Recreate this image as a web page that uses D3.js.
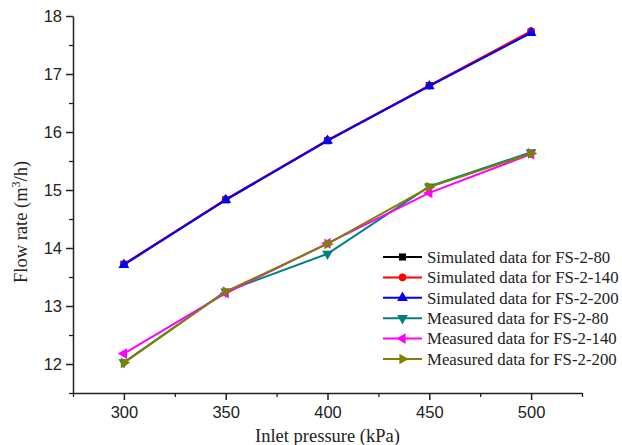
<!DOCTYPE html>
<html>
<head>
<meta charset="utf-8">
<title>Flow rate vs inlet pressure</title>
<script src="https://d3js.org/d3.v7.min.js"></script>
<style>
    body { margin: 0; background: #fff; }
    .tick text { font-family: Arial, "Liberation Sans", sans-serif; font-size: 16.5px; fill: #222; }
    .axis-title { font-family: "Times New Roman", "Liberation Serif", serif; font-size: 18.5px; fill: #222; }
    .legend text { font-family: "Times New Roman", "Liberation Serif", serif; font-size: 16.8px; fill: #222; }
</style>
</head>
<body>
<div id="chart"></div>
<script>
    // data
    const pressures = [300, 350, 400, 450, 500];
    const simFS80 = [13.72, 14.83, 15.85, 16.80, 17.72];
    const simFS140 = [13.72, 14.84, 15.86, 16.80, 17.74];
    const simFS200 = [13.71, 14.83, 15.85, 16.79, 17.71];
    const measFS80 = [12.03, 13.25, 13.90, 15.06, 15.65];
    const measFS140 = [12.18, 13.22, 14.08, 14.95, 15.62];
    const measFS200 = [12.02, 13.25, 14.07, 15.05, 15.63];
    const xTicks = [300, 350, 400, 450, 500];
    const yTicks = [12, 13, 14, 15, 16, 17, 18];

    const series = [
        { name: "Simulated data for FS-2-80", values: simFS80, color: "#000000", symbol: d3.symbolSquare, rot: 0 },
        { name: "Simulated data for FS-2-140", values: simFS140, color: "#ff0000", symbol: d3.symbolCircle, rot: 0 },
        { name: "Simulated data for FS-2-200", values: simFS200, color: "#0000ff", symbol: d3.symbolTriangle, rot: 0 },
        { name: "Measured data for FS-2-80", values: measFS80, color: "#008080", symbol: d3.symbolTriangle, rot: 180 },
        { name: "Measured data for FS-2-140", values: measFS140, color: "#ff00ff", symbol: d3.symbolTriangle, rot: -90 },
        { name: "Measured data for FS-2-200", values: measFS200, color: "#808000", symbol: d3.symbolTriangle, rot: 90 }
    ];

    const W = 622, H = 445;
    const margin = { top: 16, right: 40, bottom: 52, left: 73 };
    const width = W - margin.left - margin.right;
    const height = H - margin.top - margin.bottom;

    const svg = d3.select("#chart").append("svg")
        .attr("width", W)
        .attr("height", H);

    const g = svg.append("g")
        .attr("transform", `translate(${margin.left},${margin.top})`);

    const x = d3.scaleLinear().domain([275, 525]).range([0, width]);
    const y = d3.scaleLinear().domain([11.5, 18]).range([height, 0]);

    // minor ticks
    const xMinor = d3.range(275, 526, 25).filter(v => !xTicks.includes(v));
    const yMinor = d3.range(11.5, 18.01, 0.5).filter(v => !yTicks.includes(v));

    g.append("g")
        .attr("transform", `translate(0,${height})`)
        .call(d3.axisBottom(x).tickValues(xMinor).tickSize(4).tickFormat(""))
        .call(a => a.select(".domain").remove())
        .selectAll("line").attr("stroke", "#222").attr("stroke-width", 1.3);

    g.append("g")
        .call(d3.axisLeft(y).tickValues(yMinor).tickSize(4).tickFormat(""))
        .call(a => a.select(".domain").remove())
        .selectAll("line").attr("stroke", "#222").attr("stroke-width", 1.3);

    const xAxis = g.append("g")
        .attr("transform", `translate(0,${height})`)
        .call(d3.axisBottom(x).tickValues(xTicks).tickFormat(d3.format("d"))
            .tickSize(7).tickSizeOuter(0).tickPadding(6));
    xAxis.select(".domain").attr("stroke", "#222").attr("stroke-width", 1.5);
    xAxis.selectAll(".tick line").attr("stroke", "#222").attr("stroke-width", 1.5);

    const yAxis = g.append("g")
        .call(d3.axisLeft(y).tickValues(yTicks).tickFormat(d3.format("d"))
            .tickSize(7).tickSizeOuter(0).tickPadding(4));
    yAxis.select(".domain").attr("stroke", "#222").attr("stroke-width", 1.5);
    yAxis.selectAll(".tick line").attr("stroke", "#222").attr("stroke-width", 1.5);

    // axis titles
    svg.append("text")
        .attr("class", "axis-title")
        .attr("x", margin.left + x(400))
        .attr("y", H - 3)
        .attr("text-anchor", "middle")
        .text("Inlet pressure (kPa)");

    const yTitle = svg.append("text")
        .attr("class", "axis-title")
        .attr("transform", `translate(27,${margin.top + y(14.45)}) rotate(-90)`)
        .attr("text-anchor", "middle");
    yTitle.append("tspan").text("Flow rate (m");
    yTitle.append("tspan").attr("dy", -7).attr("font-size", "12px").text("3");
    yTitle.append("tspan").attr("dy", 7).text("/h)");

    // lines and markers
    const line = d3.line()
        .x((d, i) => x(pressures[i]))
        .y(d => y(d));

    series.forEach(s => {
        g.append("path")
            .datum(s.values)
            .attr("fill", "none")
            .attr("stroke", s.color)
            .attr("stroke-width", 2)
            .attr("d", line);
        g.selectAll(null)
            .data(s.values)
            .join("path")
            .attr("transform", (d, i) => `translate(${x(pressures[i])},${y(d)}) rotate(${s.rot})`)
            .attr("d", d3.symbol().type(s.symbol).size(s.symbol === d3.symbolCircle ? 45 : 50))
            .attr("fill", s.color);
    });

    // legend
    const legend = svg.append("g").attr("class", "legend")
        .attr("transform", "translate(383,257)");
    series.forEach((s, i) => {
        const row = legend.append("g").attr("transform", `translate(0,${i * 20.4})`);
        row.append("line")
            .attr("x1", 0).attr("x2", 39)
            .attr("stroke", s.color).attr("stroke-width", 2);
        row.append("path")
            .attr("transform", `translate(19.5,0) rotate(${s.rot})`)
            .attr("d", d3.symbol().type(s.symbol).size(s.symbol === d3.symbolCircle ? 45 : 50))
            .attr("fill", s.color);
        row.append("text")
            .attr("x", 44)
            .attr("dy", "0.35em")
            .text(s.name);
    });
</script>
</body>
</html>
